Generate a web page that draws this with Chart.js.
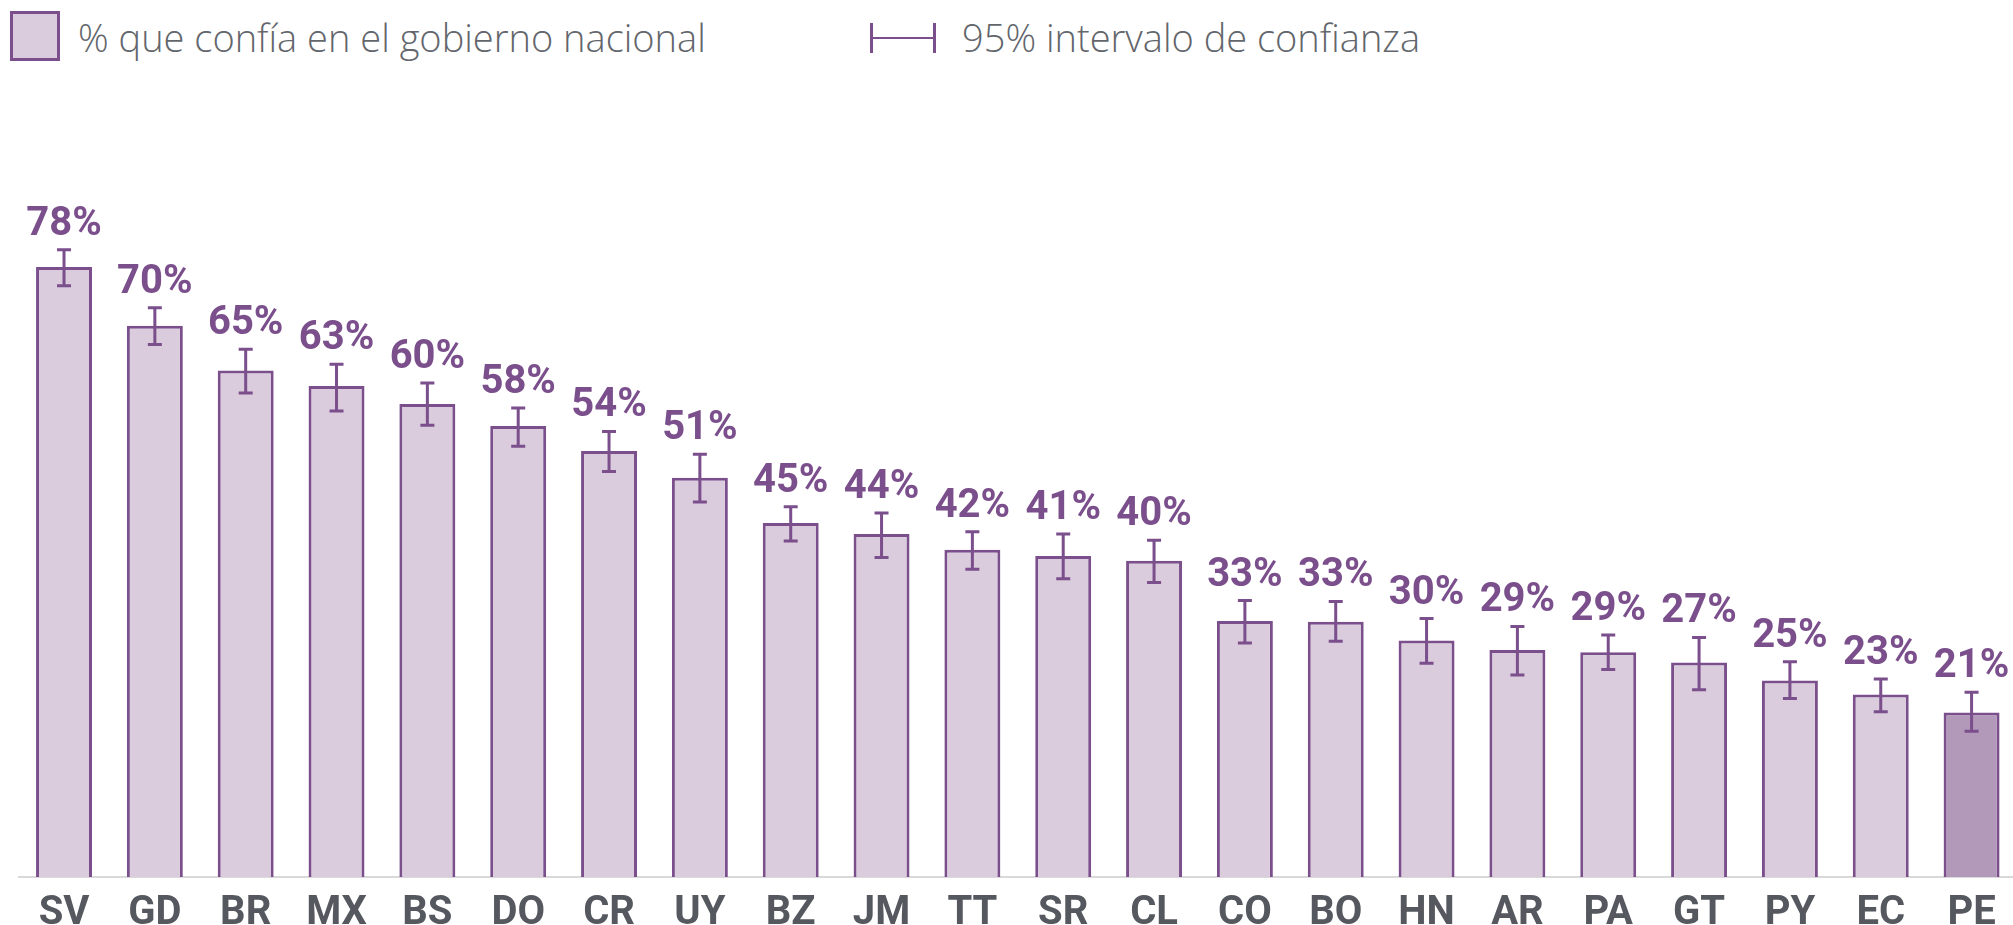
<!DOCTYPE html>
<html>
<head>
<meta charset="utf-8">
<script src="https://cdn.jsdelivr.net/npm/chart.js@4.4.1/dist/chart.umd.min.js"></script>
<style>
  html, body { margin: 0; padding: 0; background: #ffffff; overflow: hidden; width: 2013px; height: 925px; }
  #wrap { position: absolute; left: 0; top: 0; width: 2017px; height: 925px; }
  .leg { position: absolute; font-family: "Open Sans", Roboto, sans-serif; font-weight: 300; font-size: 38px; color: #63666c; white-space: nowrap; line-height: 1; }
  #sw { position: absolute; left: 10px; top: 11px; width: 44px; height: 44px; border: 3px solid #7a4f8c; background: #dacbdd; }
  .ic { position: absolute; background: #7a4f8c; }
</style>
</head>
<body>
<div id="sw"></div>
<div class="leg" style="left:78px; top:18px;">% que confía en el gobierno nacional</div>
<div class="ic" style="left:870px; top:23px; width:3px; height:30px;"></div>
<div class="ic" style="left:870px; top:37px; width:66px; height:2px;"></div>
<div class="ic" style="left:933px; top:23px; width:3px; height:30px;"></div>
<div class="leg" style="left:962px; top:18px;">95% intervalo de confianza</div>
<div id="wrap"><canvas id="c"></canvas></div>
<script>
const countries = ["SV","GD","BR","MX","BS","DO","CR","UY","BZ","JM","TT","SR","CL","CO","BO","HN","AR","PA","GT","PY","EC","PE"];
const trustValues = [77.9, 70.4, 64.7, 62.7, 60.4, 57.6, 54.4, 51.0, 45.2, 43.8, 41.8, 41.0, 40.4, 32.7, 32.6, 30.2, 29.0, 28.7, 27.4, 25.1, 23.3, 21.0];
const ciLower = [75.5, 68.0, 61.8, 59.5, 57.7, 55.0, 51.8, 47.9, 42.9, 40.8, 39.3, 38.1, 37.6, 29.9, 30.1, 27.3, 25.8, 26.5, 23.9, 22.8, 21.1, 18.6];
const ciUpper = [80.1, 72.7, 67.4, 65.5, 63.1, 59.9, 56.9, 54.0, 47.3, 46.5, 44.1, 43.8, 43.0, 35.3, 35.2, 33.0, 32.0, 30.9, 30.6, 27.5, 25.3, 23.6];
const highlighted = ["PE"];

const purple = "#7a4f8c";
const lightFill = "#dacbdd";
const darkFill = "#b298b9";

const errorBarPlugin = {
  id: "errorBars",
  afterDatasetsDraw(chart) {
    const ctx = chart.ctx;
    const meta = chart.getDatasetMeta(0);
    const y = chart.scales.y;
    ctx.save();
    ctx.strokeStyle = purple;
    ctx.lineWidth = 3;
    ctx.lineCap = "butt";
    meta.data.forEach((bar, i) => {
      const x = bar.x;
      const yHi = y.getPixelForValue(ciUpper[i]);
      const yLo = y.getPixelForValue(ciLower[i]);
      const cap = 7;
      ctx.beginPath();
      ctx.moveTo(x, yHi); ctx.lineTo(x, yLo);
      ctx.moveTo(x - cap, yHi); ctx.lineTo(x + cap, yHi);
      ctx.moveTo(x - cap, yLo); ctx.lineTo(x + cap, yLo);
      ctx.stroke();
      ctx.fillStyle = purple;
      ctx.font = "bold 40px Roboto";
      ctx.textAlign = "center";
      ctx.textBaseline = "alphabetic";
      ctx.fillText(Math.round(trustValues[i]) + "%", x, yHi - 15);
    });
    ctx.restore();
  }
};

new Chart(document.getElementById("c"), {
  type: "bar",
  data: {
    labels: countries,
    datasets: [{
      label: "% que confía en el gobierno nacional",
      data: trustValues,
      backgroundColor: countries.map(c => highlighted.includes(c) ? darkFill : lightFill),
      borderColor: purple,
      borderWidth: 3,
      borderSkipped: "bottom",
      barPercentage: 0.616,
      categoryPercentage: 1.0
    }]
  },
  options: {
    responsive: true,
    maintainAspectRatio: false,
    animation: false,
    layout: { padding: { left: 18.6, right: 0, top: 94, bottom: 0 } },
    plugins: { legend: { display: false }, tooltip: { enabled: false } },
    scales: {
      x: {
        afterFit(scale) { scale.height = 48; },
        grid: { display: false, drawTicks: false },
        border: { display: true, color: "#d9d9d9", width: 2 },
        ticks: { color: "#55585e", font: { family: "Roboto", weight: "bold", size: 40 }, padding: 12.5, maxRotation: 0, autoSkip: false }
      },
      y: { display: false, min: 0, max: 100 }
    }
  },
  plugins: [errorBarPlugin]
});
</script>
</body>
</html>
